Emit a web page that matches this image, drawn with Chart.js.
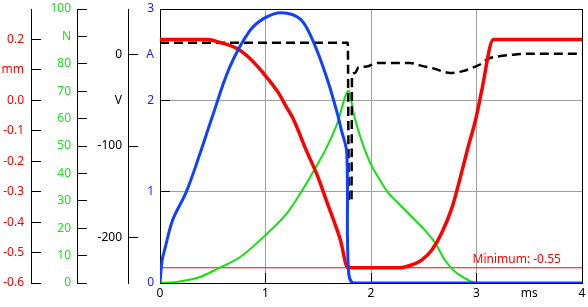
<!DOCTYPE html>
<html><head><meta charset="utf-8">
<script src="https://cdn.jsdelivr.net/npm/chart.js@4"></script>
<style>html,body{margin:0;padding:0;background:#fff;}canvas{display:block;}</style>
</head><body>
<canvas id="c" width="588" height="307"></canvas>
<script>
// ---- data (time in ms) ----
const timeCurrent = [0, 0.02, 0.05, 0.12, 0.25, 0.38, 0.49, 0.66, 0.85, 0.99, 1.15, 1.33, 1.45, 1.58, 1.68, 1.72, 1.77, 1.785, 1.84, 4];
const currentA    = [0, 0.25, 0.39, 0.69, 1.00, 1.42, 1.80, 2.36, 2.76, 2.90, 2.96, 2.89, 2.65, 2.25, 1.86, 1.67, 1.43, 0.17, 0, 0];

const timeStroke = [0, 0.45, 0.57, 0.73, 0.85, 0.98, 1.12, 1.20, 1.26, 1.39, 1.49, 1.58, 1.71, 1.78, 2.27, 2.39, 2.48, 2.58, 2.67, 2.77, 2.84, 2.92, 2.99, 3.05, 3.16, 4];
const strokeMm   = [0.2, 0.2, 0.19, 0.17, 0.138, 0.089, 0.026, -0.023, -0.059, -0.167, -0.246, -0.332, -0.459, -0.55, -0.55, -0.54, -0.525, -0.49, -0.436, -0.35, -0.262, -0.154, -0.066, 0.033, 0.2, 0.2];

const timeForce = [0, 0.14, 0.38, 0.54, 0.76, 1.0, 1.21, 1.33, 1.47, 1.58, 1.68, 1.79, 1.83, 1.88, 1.99, 2.07, 2.16, 2.26, 2.39, 2.51, 2.61, 2.70, 2.80, 2.92, 3.0, 4];
const forceN    = [0, 0.3, 2.2, 5.1, 9.5, 17.5, 25.8, 32.7, 41.8, 49.5, 58.2, 70.2, 62.9, 55.6, 44, 38.5, 33.1, 29.1, 24, 19.3, 14.5, 8.4, 4, 1.1, 0, 0];

const timeVoltage = [0, 1.78, 1.79, 1.815, 1.82, 1.85, 1.88, 1.96, 2.06, 2.27, 2.37, 2.47, 2.59, 2.75, 2.87, 2.97, 3.06, 3.10, 3.20, 3.35, 3.51, 4];
const voltageV    = [13, 13, -160, -160, -22, -20, -14, -13, -9, -9, -9, -12, -15, -20, -18, -14, -9, -5, -2, 0, 1, 1];

const minimumValue = -0.55;
const minimumLabelAt = 3.80;

// ---- tick labels ----
const xTickValues  = [0, 1, 2, 3, 3.5, 4];
const xTickLabels  = ['0', '1', '2', '3', 'ms', '4'];
const mmTickValues = [-0.6, -0.5, -0.4, -0.3, -0.2, -0.1, 0.0, 0.1, 0.2];
const mmTickLabels = ['-0.6', '-0.5', '-0.4', '-0.3', '-0.2', '-0.1', '0.0', 'mm', '0.2'];
const nTickValues  = [0, 10, 20, 30, 40, 50, 60, 70, 80, 90, 100];
const nTickLabels  = ['0', '10', '20', '30', '40', '50', '60', '70', '80', 'N', '100'];
const vTickValues  = [-200, -100, -50, 0];
const vTickLabels  = ['-200', '-100', 'V', '0'];
const aTickValues  = [0, 1, 2, 2.5, 3];
const aTickLabels  = ['0', '1', '2', 'A', '3'];

// ---- helpers ----
const pts = (xs, ys) => xs.map((x, i) => ({x, y: ys[i]}));
const setTicks = values => scale => { scale.ticks = values.map(v => ({value: v})); };
const near = (a, b) => Math.abs(a - b) < 1e-9;
const CLEAR = 'rgba(0,0,0,0)';

Chart.defaults.font.family = '"Noto Sans", "Open Sans", sans-serif';
Chart.defaults.font.size = 12;

function leftAxis(min, max, values, labels, color, width, weight, padding, extra) {
  return Object.assign({
    type: 'linear', position: 'left', min, max, weight,
    afterBuildTicks: setTicks(values),
    afterFit: s => { s.width = width; s.paddingTop = 4; s.paddingBottom = 4; },
    ticks: { color, padding, autoSkip: false, callback: (v, i) => labels[i] },
    grid: { drawOnChartArea: false, drawTicks: true, tickLength: -10, tickColor: '#000', tickWidth: 1 },
    border: { display: true, color: '#000', width: 1 }
  }, extra || {});
}

const minimumLabel = {
  id: 'minimumLabel',
  afterDatasetsDraw(chart) {
    const {ctx, scales} = chart;
    const x = scales.x.getPixelForValue(minimumLabelAt);
    const y = scales.yMm.getPixelForValue(minimumValue);
    ctx.save();
    ctx.font = '12px "Noto Sans", sans-serif';
    ctx.fillStyle = '#ff0000';
    ctx.textAlign = 'right';
    ctx.textBaseline = 'alphabetic';
    ctx.fillText('Minimum: ' + minimumValue.toFixed(2), x, y - 5);
    ctx.restore();
  }
};

new Chart(document.getElementById('c'), {
  type: 'scatter',
  data: {
    datasets: [
      { label: 'A', data: pts(timeCurrent, currentA), yAxisID: 'yA', showLine: true,
        borderColor: '#1040ff', borderWidth: 3, pointRadius: 0, tension: 0.35 },
      { label: 'mm', data: pts(timeStroke, strokeMm), yAxisID: 'yMm', showLine: true,
        borderColor: '#ff0000', borderWidth: 3.5, pointRadius: 0, cubicInterpolationMode: 'monotone' },
      { label: 'V', data: pts(timeVoltage, voltageV), yAxisID: 'yV', showLine: true,
        borderColor: '#000000', borderWidth: 2.5, borderDash: [9, 5], pointRadius: 0, cubicInterpolationMode: 'monotone' },
      { label: 'N', data: pts(timeForce, forceN), yAxisID: 'yN', showLine: true,
        borderColor: '#11e011', borderWidth: 2, pointRadius: 0, cubicInterpolationMode: 'monotone' },
      { label: 'Minimum', data: pts([0, 4], [minimumValue, minimumValue]), yAxisID: 'yMm', showLine: true,
        borderColor: '#ff0000', borderWidth: 1, pointRadius: 0 }
    ]
  },
  options: {
    responsive: false,
    animation: false,
    layout: { padding: { left: 0, right: 6, top: 9, bottom: 0 } },
    plugins: { legend: { display: false }, tooltip: { enabled: false } },
    scales: {
      x: {
        type: 'linear', position: 'bottom', min: 0, max: 4,
        afterBuildTicks: setTicks(xTickValues),
        afterFit: s => { s.height = 24; s.paddingLeft = 0; s.paddingRight = 4; },
        ticks: { color: '#000', padding: 13, autoSkip: false, maxRotation: 0, callback: (v, i) => xTickLabels[i] },
        grid: {
          drawOnChartArea: true, drawTicks: true, tickLength: -10,
          color: c => (c.tick && [1, 2, 3].some(t => near(t, c.tick.value))) ? '#a0a0a0' : CLEAR,
          tickColor: c => (c.tick && near(c.tick.value, 3.5)) ? CLEAR : '#000'
        },
        border: { display: true, color: '#000', width: 1 }
      },
      xTop: {
        type: 'linear', position: 'top', min: 0, max: 4,
        afterFit: s => { s.height = 0; },
        ticks: { display: false }, grid: { display: false, drawTicks: false },
        border: { display: true, color: '#000', width: 1 }
      },
      yRight: {
        type: 'linear', position: 'right', min: 0, max: 1,
        afterFit: s => { s.width = 0; },
        ticks: { display: false }, grid: { display: false, drawTicks: false },
        border: { display: true, color: '#000', width: 1 }
      },
      yMm: leftAxis(-0.6, 0.3, mmTickValues, mmTickLabels, '#ff0000', 31, 4, 17),
      yN:  leftAxis(0, 100, nTickValues, nTickLabels, '#1ee01e', 46, 3, 16),
      yV:  leftAxis(-250, 50, vTickValues, vTickLabels, '#000000', 51, 2, 16, {
        grid: { drawOnChartArea: false, drawTicks: true, tickLength: -10, tickWidth: 1,
          tickColor: c => (c.tick && near(c.tick.value, -50)) ? CLEAR : '#000' }
      }),
      yA:  leftAxis(0, 3, aTickValues, aTickLabels, '#1a1aff', 32, 1, 16, {
        grid: { drawOnChartArea: true, drawTicks: true, tickLength: -10, tickWidth: 1,
          color: c => (c.tick && (near(c.tick.value, 1) || near(c.tick.value, 2))) ? '#a0a0a0' : CLEAR,
          tickColor: c => (c.tick && near(c.tick.value, 2.5)) ? CLEAR : '#000' }
      })
    }
  },
  plugins: [minimumLabel]
});
</script>
</body></html>
